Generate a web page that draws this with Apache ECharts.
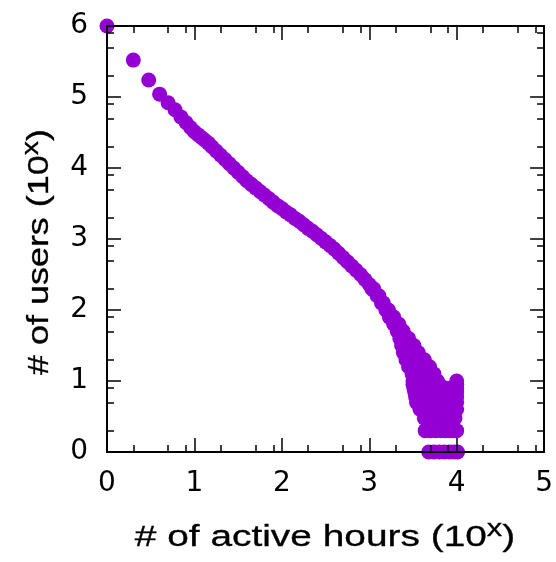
<!DOCTYPE html>
<html>
<head>
<meta charset="utf-8">
<script src="https://cdn.jsdelivr.net/npm/echarts@6/dist/echarts.min.js"></script>
<style>
html,body{margin:0;padding:0;background:#ffffff;}
#chart{width:556px;height:562px;}
</style>
</head>
<body>
<div id="chart"></div>
<script>
// ---- tick values ----
const xTickValues = [0, 1, 2, 3, 4, 5];
const yTickValues = [0, 1, 2, 3, 4, 5, 6];
const xMinorTicks = [0.301, 0.699, 0.903, 1.301, 1.699, 1.903, 2.301, 2.699, 2.903, 3.301, 3.699, 3.903, 4.301, 4.699, 4.903];
const yMinorTicks = [0.301, 0.699, 0.903, 1.301, 1.699, 1.903, 2.301, 2.699, 2.903, 3.301, 3.699, 3.903, 4.301, 4.699, 4.903, 5.301, 5.699, 5.903];

// ---- titles ----
const xTitleMain = '# of active hours (10';
const yTitleMain = '# of users (10';
const supText = 'x';

// ---- main curve: log10(active hours) vs log10(users) ----
const curveX = [0, 0.301, 0.477, 0.602, 0.699, 0.778, 0.845, 0.903, 0.954, 1.00,
  1.04, 1.08, 1.12, 1.16, 1.20, 1.25, 1.30, 1.35, 1.40, 1.45,
  1.50, 1.55, 1.60, 1.65, 1.70, 1.75, 1.80, 1.85, 1.90, 1.95,
  2.00, 2.05, 2.10, 2.15, 2.20, 2.25, 2.30, 2.35, 2.40, 2.45,
  2.50, 2.55, 2.60, 2.65, 2.70, 2.75, 2.80, 2.85, 2.90, 2.95,
  3.00, 3.05];
const curveY = [6.00, 5.52, 5.24, 5.04, 4.92, 4.82, 4.72, 4.64, 4.57, 4.51,
  4.47, 4.43, 4.39, 4.35, 4.30, 4.24, 4.18, 4.12, 4.06, 4.00,
  3.94, 3.88, 3.82, 3.77, 3.72, 3.67, 3.62, 3.57, 3.52, 3.47,
  3.43, 3.38, 3.34, 3.29, 3.25, 3.20, 3.15, 3.11, 3.06, 3.01,
  2.96, 2.91, 2.86, 2.80, 2.74, 2.68, 2.62, 2.56, 2.50, 2.43,
  2.36, 2.28];

// ---- scattered tail (high activity, few users): one list of x per user-count level ----
const tailRowsY = [2.30, 2.20, 2.10, 2.00, 1.90, 1.80, 1.70, 1.60, 1.50, 1.40, 1.30, 1.20, 1.10,
  1.00, 0.954, 0.903, 0.845, 0.778, 0.699, 0.602, 0.477, 0.301, 0];
const tailRowsX = [
  [3.03, 3.05],
  [3.09, 3.11],
  [3.14, 3.16],
  [3.19, 3.22],
  [3.23, 3.28],
  [3.28, 3.34],
  [3.32, 3.36, 3.39],
  [3.35, 3.40, 3.45],
  [3.37, 3.44, 3.51],
  [3.39, 3.45, 3.51, 3.56],
  [3.42, 3.45, 3.51, 3.57, 3.63],
  [3.45, 3.51, 3.57, 3.63, 3.69],
  [3.49, 3.52, 3.58, 3.64, 3.70, 3.74],
  [3.50, 3.56, 3.62, 3.68, 3.73, 3.78, 4.00],
  [3.50, 3.59, 3.65, 3.71, 3.77, 3.80, 4.00],
  [3.51, 3.57, 3.63, 3.69, 3.75, 3.81, 3.87, 3.94, 4.00],
  [3.52, 3.61, 3.67, 3.73, 3.79, 3.85, 3.91, 3.97, 4.00],
  [3.53, 3.58, 3.64, 3.70, 3.76, 3.82, 3.88, 3.94, 4.00],
  [3.54, 3.61, 3.67, 3.73, 3.79, 3.85, 3.91, 3.97, 4.00],
  [3.58, 3.64, 3.70, 3.76, 3.82, 3.88, 3.94, 4.00],
  [3.63, 3.66, 3.72, 3.78, 3.84, 3.89, 3.94, 3.98],
  [3.64, 3.70, 3.76, 3.82, 3.87, 3.92, 3.96, 4.00],
  [3.68, 3.74, 3.80, 3.86, 3.92, 3.97, 4.01]
];

const points = curveX.map((x, i) => [x, curveY[i]]);
tailRowsY.forEach((y, r) => tailRowsX[r].forEach(x => points.push([x, y])));

const BLACK = '#000000';
const FONT = 'Liberation Sans';
const TICK_FONT = 'DejaVu Sans';

function majorAxis(kind, position, showLabel, ticks) {
  const isX = kind === 'x';
  return {
    type: 'value',
    position: position,
    min: ticks[0],
    max: ticks[ticks.length - 1],
    interval: 1,
    z: 5,
    axisLine: {show: true, onZero: false, lineStyle: {color: BLACK, width: 2}},
    axisTick: {show: true, inside: true, length: 14, lineStyle: {color: BLACK, width: 1.5}},
    axisLabel: {
      show: showLabel,
      margin: isX ? 18 : 19,
      fontSize: 28,
      fontFamily: TICK_FONT,
      color: BLACK,
      showMinLabel: true,
      showMaxLabel: true
    },
    splitLine: {show: false}
  };
}
function minorAxis(position, ticks, minor) {
  return {
    type: 'value',
    position: position,
    min: ticks[0],
    max: ticks[ticks.length - 1],
    z: 5,
    axisLine: {show: false, onZero: false},
    axisTick: {show: true, inside: true, length: 7, customValues: minor, lineStyle: {color: BLACK, width: 1.5}},
    axisLabel: {show: false},
    splitLine: {show: false}
  };
}

const chart = echarts.init(document.getElementById('chart'), null, {renderer: 'canvas'});

const titleStyle = (text) => ({
  text: text,
  fontSize: 29,
  fontFamily: FONT,
  fill: BLACK,
  stroke: BLACK,
  lineWidth: 0.3,
  align: 'center',
  verticalAlign: 'middle',
  lineHeight: 40,
  rich: {
    s: {fontSize: 23, fontFamily: FONT, fill: BLACK, verticalAlign: 'top', lineHeight: 25}
  }
});

chart.setOption({
  animation: false,
  backgroundColor: '#ffffff',
  grid: {left: 107, right: 6, top: 26, bottom: 110, containLabel: false},
  xAxis: [
    majorAxis('x', 'bottom', true, xTickValues),
    minorAxis('bottom', xTickValues, xMinorTicks),
    majorAxis('x', 'top', false, xTickValues),
    minorAxis('top', xTickValues, xMinorTicks)
  ],
  yAxis: [
    majorAxis('y', 'left', true, yTickValues),
    minorAxis('left', yTickValues, yMinorTicks),
    majorAxis('y', 'right', false, yTickValues),
    minorAxis('right', yTickValues, yMinorTicks)
  ],
  series: [{
    type: 'scatter',
    xAxisIndex: 0,
    yAxisIndex: 0,
    data: points,
    symbol: 'circle',
    symbolSize: 15,
    clip: false,
    z: 2,
    itemStyle: {color: '#9400d3', opacity: 1},
    emphasis: {disabled: true}
  }],
  graphic: [
    {
      type: 'text',
      x: 325,
      y: 538,
      scaleX: 1.34,
      style: titleStyle(xTitleMain + '{s|' + supText + '})')
    },
    {
      type: 'text',
      x: 40,
      y: 252,
      rotation: Math.PI / 2,
      scaleX: 1.24,
      style: titleStyle(yTitleMain + '{s|' + supText + '})')
    }
  ]
});
</script>
</body>
</html>
